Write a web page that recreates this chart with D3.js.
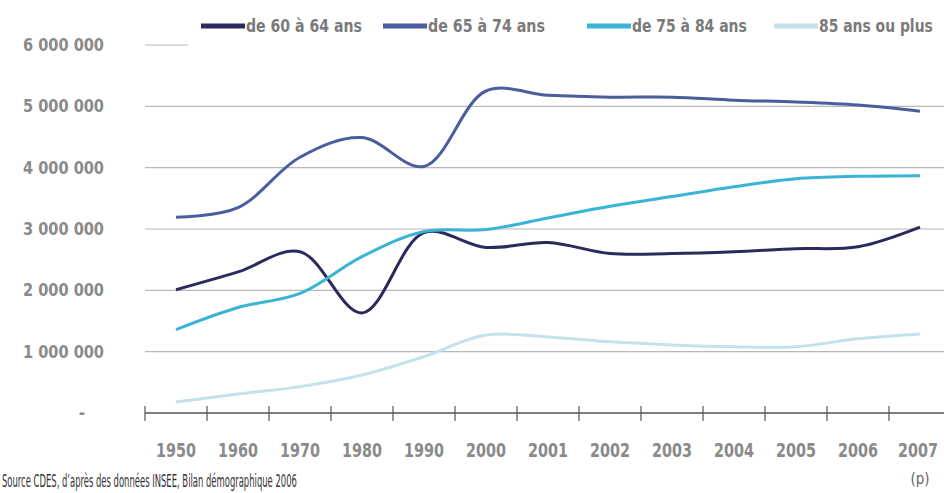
<!DOCTYPE html>
<html>
<head>
<meta charset="utf-8">
<script src="https://cdn.jsdelivr.net/npm/d3@7"></script>
<style>
  body { margin: 0; background: #fff; }
  svg { display: block; }
  text { font-family: "DejaVu Sans Condensed", "Liberation Sans Narrow", sans-serif; font-stretch: condensed; }
</style>
</head>
<body>
<div id="chart"></div>
<script>
// categories on the x axis
const years = ['1950', '1960', '1970', '1980', '1990', '2000', '2001', '2002', '2003', '2004', '2005', '2006', '2007'];

// population by age group
const age60_64 = [2010000, 2300000, 2630000, 1630000, 2940000, 2700000, 2780000, 2600000, 2600000, 2630000, 2680000, 2710000, 3030000];
const age65_74 = [3190000, 3350000, 4170000, 4490000, 4020000, 5250000, 5180000, 5150000, 5150000, 5100000, 5070000, 5020000, 4920000];
const age75_84 = [1360000, 1720000, 1950000, 2550000, 2960000, 2990000, 3180000, 3370000, 3530000, 3690000, 3820000, 3860000, 3870000];
const age85plus = [180000, 310000, 430000, 620000, 920000, 1270000, 1240000, 1160000, 1110000, 1080000, 1080000, 1210000, 1290000];

const seriesNames = ['de 60 à 64 ans', 'de 65 à 74 ans', 'de 75 à 84 ans', '85 ans ou plus'];
const seriesColours = ['#2b2a5c', '#4a5d9e', '#3ab4d6', '#c4e2ea'];
const seriesValues = [age60_64, age65_74, age75_84, age85plus];

const yTicks = [0, 1000000, 2000000, 3000000, 4000000, 5000000, 6000000];

const width = 944, height = 493;

const svg = d3.select('#chart').append('svg')
    .attr('width', width)
    .attr('height', height);

// squeeze a text horizontally to a given width (mimics the condensed font)
function squeeze(sel, w, px, py) {
    sel.each(function(d, i) {
        const t = d3.select(this);
        const natural = this.getComputedTextLength();
        const target = typeof w === 'function' ? w(d, i) : w;
        const s = Math.min(1, target / natural);
        t.attr('x', 0).attr('y', 0)
         .attr('transform', `translate(${px(d, i)}, ${py(d, i)}) scale(${s}, 1)`);
    });
}

// scales
const x = d3.scaleBand()
    .domain(years)
    .range([145, 951]);

const y = d3.scaleLinear()
    .domain([0, 6000000])
    .range([413, 45]);

// gridlines (the top one is only a short stub)
svg.append('g').selectAll('line')
    .data(yTicks.filter(t => t > 0))
    .enter()
    .append('line')
        .attr('x1', 145)
        .attr('x2', d => d === 6000000 ? 188 : width)
        .attr('y1', d => y(d))
        .attr('y2', d => y(d))
        .style('stroke', '#b8b8b8')
        .style('stroke-width', 1.2);

// y labels
const fmt = v => v === 0 ? '-' : d3.format(',')(v).replace(/,/g, ' ');
svg.append('g').selectAll('text')
    .data(yTicks)
    .enter()
    .append('text')
        .attr('dy', '0.36em')
        .attr('text-anchor', d => d === 0 ? 'middle' : 'end')
        .style('font-size', '17px')
        .style('font-weight', 'bold')
        .style('fill', '#8a8a8a')
        .text(fmt)
        .call(squeeze, d => d === 0 ? 99 : 81, d => d === 0 ? 82 : 104, d => y(d));

// x axis line + ticks at band edges
const axis = svg.append('g');
axis.append('line')
    .attr('x1', 145).attr('x2', width)
    .attr('y1', y(0)).attr('y2', y(0))
    .style('stroke', '#555')
    .style('stroke-width', 1.3);

axis.selectAll('line.tick')
    .data(years)
    .enter()
    .append('line')
        .attr('class', 'tick')
        .attr('x1', d => x(d)).attr('x2', d => x(d))
        .attr('y1', y(0) - 7).attr('y2', y(0) + 8)
        .style('stroke', '#555')
        .style('stroke-width', 1.2);

// year labels, centred in each band
axis.selectAll('text.year')
    .data(years)
    .enter()
    .append('text')
        .attr('class', 'year')
        .attr('text-anchor', 'middle')
        .style('font-size', '19px')
        .style('font-weight', 'bold')
        .style('fill', '#8a8a8a')
        .text(d => d)
        .call(squeeze, 40, d => x(d) + x.bandwidth() / 2 - (d === '2007' ? 2 : 0), () => 457);

// "(p)" under the last year
axis.append('text')
    .attr('x', x('2007') + x.bandwidth() / 2)
    .attr('y', 484)
    .attr('text-anchor', 'middle')
    .style('font-size', '15px')
    .style('fill', '#666')
    .text('(p)');

// lines
const line = d3.line()
    .x((d, i) => x(years[i]) + x.bandwidth() / 2)
    .y(d => y(d))
    .curve(d3.curveCatmullRom.alpha(0.5));

svg.append('g').selectAll('path')
    .data(seriesValues)
    .enter()
    .append('path')
        .attr('d', d => line(d))
        .style('fill', 'none')
        .style('stroke', (d, i) => seriesColours[i])
        .style('stroke-width', 3)
        .style('stroke-linejoin', 'round');

// legend
const legendX = [201, 383, 587, 774];
const legendW = [116, 117, 115, 114];
const legend = svg.append('g').selectAll('g')
    .data(seriesNames)
    .enter()
    .append('g')
        .attr('transform', (d, i) => `translate(${legendX[i]}, 26)`);

legend.append('line')
    .attr('x1', 0).attr('x2', 44)
    .attr('y1', 0).attr('y2', 0)
    .style('stroke', (d, i) => seriesColours[i])
    .style('stroke-width', 5);

legend.append('text')
    .attr('dy', '0.35em')
    .style('font-size', '18px')
    .style('font-weight', 'bold')
    .style('fill', '#7a7a7a')
    .text(d => d)
    .call(squeeze, (d, i) => legendW[i], () => 45, () => 0);

// source note
svg.append('text')
    .datum('Source CDES, d\u2019après des données INSEE, Bilan démographique 2006')
    .style('font-size', '17px')
    .style('fill', '#333')
    .text(d => d)
    .call(squeeze, 295, () => 2, () => 487);
</script>
</body>
</html>
